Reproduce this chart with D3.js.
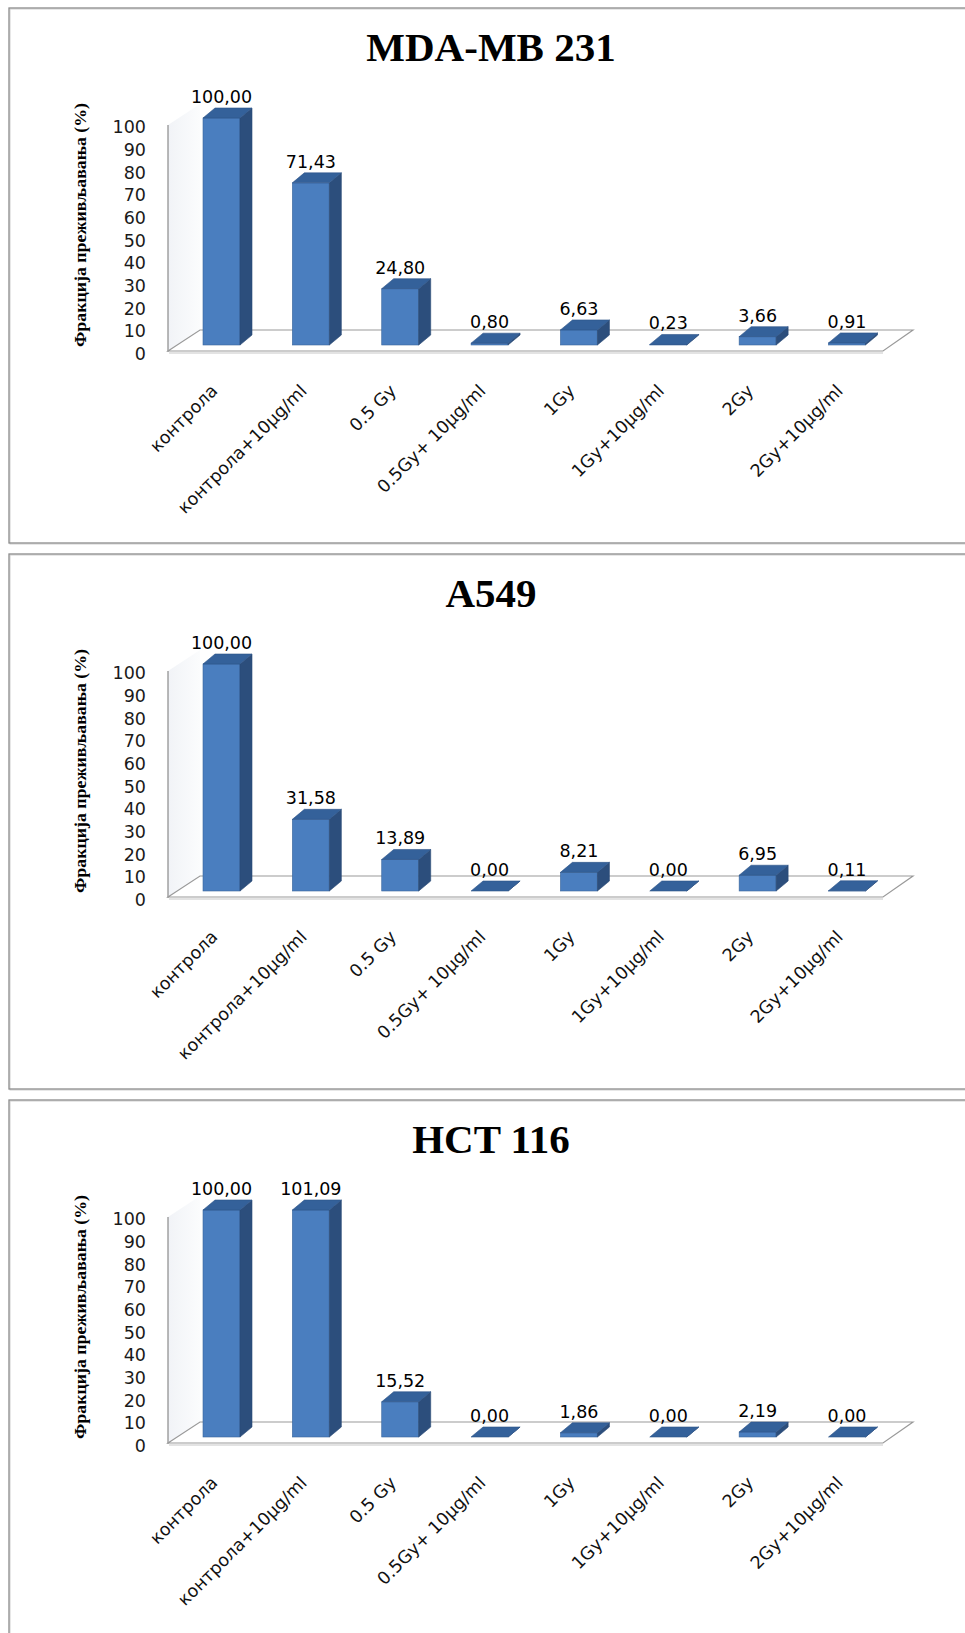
<!DOCTYPE html>
<html>
<head>
<meta charset="utf-8">
<script src="https://cdn.jsdelivr.net/npm/d3@7"></script>
<style>
  html, body { margin: 0; padding: 0; background: #fff; }
  svg { display: block; }
</style>
</head>
<body>
<script>
const categories = ["контрола", "контрола+10μg/ml", "0.5 Gy", "0.5Gy+ 10μg/ml", "1Gy", "1Gy+10μg/ml", "2Gy", "2Gy+10μg/ml"];
const titles = ["MDA-MB 231", "A549", "HCT 116"];
const mdaValues = [100.00, 71.43, 24.80, 0.80, 6.63, 0.23, 3.66, 0.91];
const a549Values = [100.00, 31.58, 13.89, 0.00, 8.21, 0.00, 6.95, 0.11];
const hctValues = [100.00, 101.09, 15.52, 0.00, 1.86, 0.00, 2.19, 0.00];
const yTicks = [0, 10, 20, 30, 40, 50, 60, 70, 80, 90, 100];
const yTitle = "Фракција преживљавања (%)";

const panels = [
  { title: titles[0], values: mdaValues },
  { title: titles[1], values: a549Values },
  { title: titles[2], values: hctValues }
];

const W = 965, H = 1633;
const pitch = 546;
const svg = d3.select("body").append("svg").attr("width", W).attr("height", H);

const defs = svg.append("defs");
const wallGrad = defs.append("linearGradient").attr("id", "wallGrad")
  .attr("x1", "0").attr("y1", "0").attr("x2", "1").attr("y2", "0");
wallGrad.append("stop").attr("offset", "0%").attr("stop-color", "#f1f3f7");
wallGrad.append("stop").attr("offset", "100%").attr("stop-color", "#fbfcfd");

const x = d3.scalePoint().domain(categories).range([221.5, 847]);
const yBar = d3.scaleLinear().domain([0, 100]).range([345, 118]).clamp(true);
const yFront = d3.scaleLinear().domain([0, 100]).range([352, 125]);
const barW = 37, bdx = 12, bdy = -10;
const fmt = v => d3.format(".2f")(v).replace(".", ",");

const floor = { fl: [168, 351], fr: [883, 351], br: [913, 330], bl: [200, 330] };

panels.forEach((p, k) => {
  const g = svg.append("g").attr("transform", `translate(0,${k * pitch})`);

  // panel border
  g.append("rect").attr("x", 10).attr("y", 9).attr("width", 970).attr("height", 535)
    .attr("fill", "none").attr("stroke", "#d0d0d0").attr("stroke-width", 1);
  g.append("rect").attr("x", 9).attr("y", 8).attr("width", 970).attr("height", 535)
    .attr("fill", "none").attr("stroke", "#8c8c8c").attr("stroke-width", 1.3);

  // title
  g.append("text").attr("x", 491).attr("y", 61).attr("text-anchor", "middle")
    .attr("font-family", "'Liberation Serif', 'Times New Roman', serif")
    .attr("font-weight", "bold").attr("font-size", 41).attr("fill", "#000")
    .text(p.title);

  // y-axis title
  g.append("text")
    .attr("transform", "translate(86,225) rotate(-90)")
    .attr("text-anchor", "middle")
    .attr("font-family", "'Liberation Serif', 'Times New Roman', serif")
    .attr("font-weight", "bold").attr("font-size", 16).attr("fill", "#000")
    .attr("textLength", 244).attr("lengthAdjust", "spacingAndGlyphs")
    .text(yTitle);

  // left side wall
  g.append("path")
    .attr("d", `M168,${yFront(0)}L168,${yFront(100)}L200,${yFront(100) - 21}L200,${yFront(0) - 21}Z`)
    .attr("fill", "url(#wallGrad)").attr("stroke", "none");
  g.append("line").attr("x1", 168).attr("y1", yFront(0)).attr("x2", 168).attr("y2", yFront(100))
    .attr("stroke", "#8a8a8a").attr("stroke-width", 1.2);

  // floor
  g.append("path")
    .attr("d", `M${floor.fl}L${floor.bl}L${floor.br}L${floor.fr}Z`)
    .attr("fill", "#fff").attr("stroke", "#9a9a9a").attr("stroke-width", 1.2);
  g.append("line").attr("x1", 169).attr("y1", 353).attr("x2", 883).attr("y2", 353)
    .attr("stroke", "#e3e3e3").attr("stroke-width", 2);

  // y axis tick labels
  const axis = d3.axisLeft(yFront).tickValues(yTicks).tickSize(0).tickPadding(0)
    .tickFormat(d3.format("d"));
  const ag = g.append("g").attr("transform", "translate(146,2)").call(axis);
  ag.select(".domain").remove();
  ag.selectAll("text").attr("font-family", "'DejaVu Sans', sans-serif")
    .attr("font-size", 17.5).attr("fill", "#1a1a1a");

  // bars
  p.values.forEach((v, i) => {
    const c = categories[i];
    const x0 = x(c) - barW / 2, x1 = x(c) + barW / 2;
    const yt = yBar(v), yb = yBar(0);
    const bg = g.append("g");
    // front
    bg.append("rect").attr("x", x0).attr("y", yt).attr("width", barW).attr("height", Math.max(0, yb - yt))
      .attr("fill", "#4a7ebf").attr("stroke", "#3a669c").attr("stroke-width", 0.6);
    // side
    bg.append("path")
      .attr("d", `M${x1},${yt}L${x1 + bdx},${yt + bdy}L${x1 + bdx},${yb + bdy}L${x1},${yb}Z`)
      .attr("fill", "#2c4e7c").attr("stroke", "#2a4a75").attr("stroke-width", 0.6);
    // top
    bg.append("path")
      .attr("d", `M${x0},${yt}L${x0 + bdx},${yt + bdy}L${x1 + bdx},${yt + bdy}L${x1},${yt}Z`)
      .attr("fill", "#34619a").attr("stroke", "#2d5488").attr("stroke-width", 0.6);
    // value label
    g.append("text").attr("x", x(c)).attr("y", yt + bdy - 5)
      .attr("text-anchor", "middle")
      .attr("font-family", "'DejaVu Sans', sans-serif").attr("font-size", 17.5).attr("fill", "#000")
      .text(fmt(v));
  });

  // category labels
  categories.forEach(c => {
    g.append("text")
      .attr("transform", `translate(${x(c) - 3},392) rotate(-45)`)
      .attr("text-anchor", "end")
      .attr("font-family", "'DejaVu Sans', sans-serif").attr("font-size", 17.5).attr("fill", "#111")
      .text(c);
  });
});
</script>
</body>
</html>
